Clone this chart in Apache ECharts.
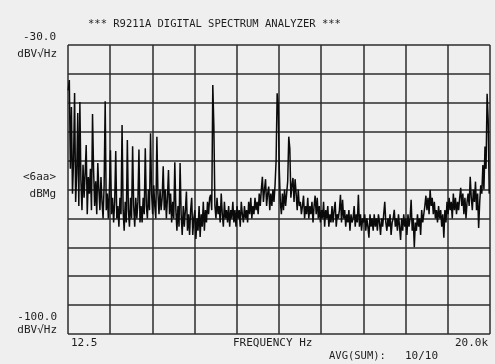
<!DOCTYPE html>
<html>
<head>
<meta charset="utf-8">
<script src="https://cdn.jsdelivr.net/npm/echarts@6/dist/echarts.min.js"></script>
<style>
  html, body { margin: 0; padding: 0; background: #efefef; }
  #chart { width: 495px; height: 364px; }
</style>
</head>
<body>
<div id="chart"></div>
<script>
// Spectrum trace: one level per 50 Hz bin, starting at 12.5 Hz
const startHz = 12.5;
const binHz = 50;
const levelDb = [
  -41, -38.5, -60, -45, -66, -58, -41.6, -68, -61, -46.5,
  -69, -43.8, -63, -70, -59, -67, -61, -54.2, -71, -62,
  -66, -60, -70, -46.7, -60.3, -69, -63, -71, -58.6, -65,
  -70, -62, -68, -72, -64, -43.6, -70, -66, -72, -65,
  -55.5, -71, -67, -73, -68, -55.7, -72, -69, -74, -67,
  -71, -49.4, -70, -75, -68, -73, -53, -70, -74, -67,
  -72, -54.5, -69, -74, -67, -72, -68, -55.3, -73, -69,
  -73, -67, -71, -55, -69, -72, -65, -70, -51.4, -66,
  -71, -64, -69, -72, -52.2, -66, -71, -65, -70, -67,
  -59.4, -70, -65, -72, -67, -60.3, -71, -66, -73, -68,
  -72, -58.4, -70, -75, -69, -74, -58.6, -71, -76, -69,
  -74, -70, -65.5, -75, -71, -76, -70, -67, -76, -72,
  -70, -77, -72, -75, -69, -76.5, -71, -74, -68, -75,
  -70, -73, -68, -71, -67, -66.3, -70, -39.7, -49.6, -69,
  -72, -67, -71, -69, -73, -66, -71, -74, -68, -72,
  -70, -73, -69, -74, -70, -72, -68, -73, -70, -74,
  -69, -72, -70, -74, -68, -71, -73, -69, -72, -70,
  -73, -68, -71, -67, -72, -69, -71, -67, -70, -68,
  -71, -66, -69, -65, -61.9, -68, -65, -62.5, -69, -66,
  -64.3, -70, -66, -69, -65, -68, -64, -58, -41.7, -44.5,
  -60, -68, -71, -66, -70, -65, -69, -66, -63, -52.2,
  -55, -67, -64, -62.2, -68, -62.5, -66, -70, -65, -69,
  -68, -71, -69, -66.5, -72, -69, -71, -67, -72, -69,
  -71, -68, -73, -69, -66.5, -71, -67, -72, -69, -73,
  -70, -72, -68, -74, -70, -72, -69, -74, -71, -73,
  -69, -73, -70, -68, -74, -71, -72, -70, -66.3, -73,
  -67.5, -72, -70, -74, -71, -73, -70, -75, -71, -73,
  -72, -69, -74, -71, -73, -66.3, -74, -71, -75, -72,
  -73, -71, -75, -72, -74, -76.7, -71, -74, -72, -75,
  -71, -74, -72, -75, -71, -73, -76, -72, -74, -71,
  -68, -73, -75, -72, -74, -71, -76, -73, -72, -69.9,
  -74, -72, -75, -71, -74, -77.2, -72, -75, -71, -74,
  -72, -76, -71, -74, -72, -67.5, -75, -72, -79, -73,
  -75, -71, -74, -72, -76, -70, -73, -71, -69, -66.5,
  -70, -67, -71, -65.1, -69, -67, -71, -68, -72, -70,
  -73, -69, -72, -70, -74, -71, -76.7, -70, -73, -68,
  -71, -67, -70, -68, -72, -66, -70, -67, -71, -68,
  -70, -67, -64.6, -69, -66, -71, -67, -72, -68, -66,
  -69, -61.9, -67, -70, -65, -68, -63.1, -70, -66, -74.3,
  -68, -64, -66, -59.1, -65, -54.6, -60, -41.8, -48, -66
];

// Axis ranges and printed labels
const freqRange = [0, 20000];
const freqStep = 2000;
const freqTickLabels = ['12.5', '20.0k'];
const levelRange = [-100, -30];
const levelDivisions = 10;
const levelTopLabel = '-30.0';
const levelBottomLabel = '-100.0';
const levelUnit = 'dBV\u221AHz';
const refLabel = ['<6aa>', 'dBMg'];
const titleText = '*** R9211A DIGITAL SPECTRUM ANALYZER ***';
const xTitle = 'FREQUENCY Hz';
const avgLabel = 'AVG(SUM):';
const avgCount = '10/10';

const trace = levelDb.map((v, i) => [startHz + i * binHz, v]);

const FONT = '"DejaVu Sans Mono", "Liberation Mono", monospace';
const INK = '#1e1e1e';
const GRID = '#2c2c2c';

const chart = echarts.init(document.getElementById('chart'), null, { renderer: 'canvas' });

function txt(s, x, y, align, size) {
  return {
    type: 'text',
    x: x, y: y,
    style: {
      text: s,
      fill: INK,
      font: (size || 11) + 'px ' + FONT,
      textAlign: align || 'left',
      textVerticalAlign: 'middle'
    },
    silent: true
  };
}

chart.setOption({
  backgroundColor: '#efefef',
  animation: false,
  grid: { left: 68, top: 45, width: 422, height: 289, containLabel: false },
  xAxis: {
    type: 'value',
    min: freqRange[0],
    max: freqRange[1],
    interval: freqStep,
    axisLine: { show: false },
    axisTick: { show: false },
    splitLine: { show: true, lineStyle: { color: GRID, width: 1.5 } },
    axisLabel: {
      show: true,
      margin: 4,
      color: INK,
      fontFamily: FONT,
      fontSize: 11,
      alignMinLabel: 'left',
      alignMaxLabel: 'right',
      padding: [0, 2, 0, 3],
      formatter: v => v === freqRange[0] ? freqTickLabels[0] : (v === freqRange[1] ? freqTickLabels[1] : '')
    }
  },
  yAxis: [
    {
      type: 'value',
      min: levelRange[0],
      max: levelRange[1],
      axisLine: { show: false },
      axisTick: { show: false },
      axisLabel: { show: false },
      splitLine: { show: false }
    },
    {
      // division grid: ten equal steps between the level limits
      type: 'value',
      min: 0,
      max: levelDivisions,
      interval: 1,
      position: 'left',
      axisLine: { show: false },
      axisTick: { show: false },
      axisLabel: { show: false },
      splitLine: { show: true, lineStyle: { color: GRID, width: 1.5 } }
    }
  ],
  series: [{
    type: 'line',
    yAxisIndex: 0,
    data: trace,
    showSymbol: false,
    sampling: null,
    lineStyle: { color: '#0a0a0a', width: 1.5 },
    z: 5
  }],
  graphic: [
    txt(titleText, 88, 24, 'left', 10.5),
    txt(levelTopLabel, 56, 37, 'right'),
    txt(levelUnit, 57, 54, 'right'),
    txt(refLabel[0], 56, 177, 'right'),
    txt(refLabel[1], 56, 194, 'right'),
    txt(levelBottomLabel, 57, 317, 'right'),
    txt(levelUnit, 57, 330, 'right'),
    txt(xTitle, 233, 343, 'left'),
    txt(avgLabel, 329, 356, 'left', 10.5),
    txt(avgCount, 405, 356, 'left')
  ]
});
</script>
</body>
</html>
